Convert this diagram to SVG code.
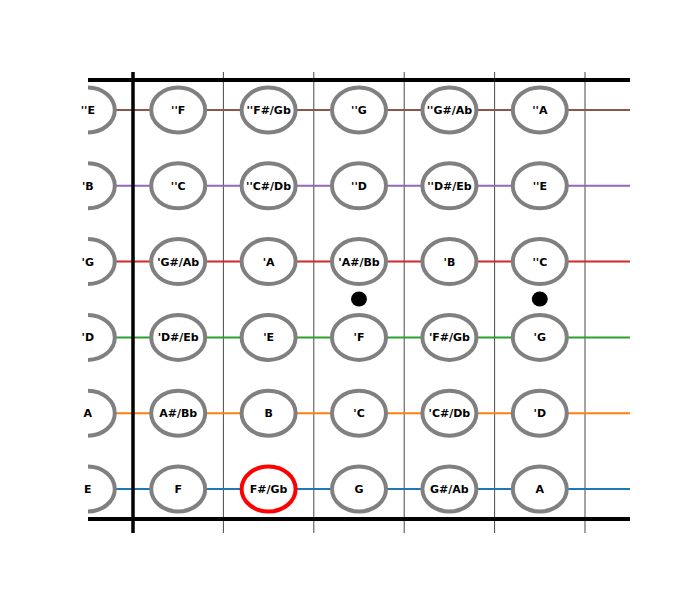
<svg xmlns="http://www.w3.org/2000/svg" width="700" height="600" viewBox="0 0 700 600">
<style>
.n{fill:#fff;stroke:#808080;stroke-width:4}
.hl{fill:#fff;stroke:#ff0000;stroke-width:4}
.t{font-family:"DejaVu Sans",sans-serif;font-weight:bold;font-size:11px;fill:#000;text-anchor:middle}
.fret{stroke:#333;stroke-width:0.9}
.s{stroke-width:2}
</style>
<defs>
<clipPath id="clip"><rect x="88" y="0" width="542" height="600"/></clipPath>
</defs>
<rect width="700" height="600" fill="#fff"/>
<g id="frets">
<line class="fret" x1="223.4" y1="72" x2="223.4" y2="533"/>
<line class="fret" x1="313.8" y1="72" x2="313.8" y2="533"/>
<line class="fret" x1="404.2" y1="72" x2="404.2" y2="533"/>
<line class="fret" x1="494.6" y1="72" x2="494.6" y2="533"/>
<line class="fret" x1="585" y1="72" x2="585" y2="533"/>
</g>
<g id="connectors">
<line class="s" x1="88" y1="110" x2="630" y2="110" stroke="#8c564b"/>
<line class="s" x1="88" y1="185.8" x2="630" y2="185.8" stroke="#9467bd"/>
<line class="s" x1="88" y1="261.6" x2="630" y2="261.6" stroke="#d62728"/>
<line class="s" x1="88" y1="337.4" x2="630" y2="337.4" stroke="#2ca02c"/>
<line class="s" x1="88" y1="413.2" x2="630" y2="413.2" stroke="#ff7f0e"/>
<line class="s" x1="88" y1="489" x2="630" y2="489" stroke="#1f77b4"/>
</g>
<g id="frame">
<line x1="88" y1="80" x2="630" y2="80" stroke="#000" stroke-width="4"/>
<line x1="88" y1="519" x2="630" y2="519" stroke="#000" stroke-width="4"/>
<line x1="133" y1="72" x2="133" y2="533" stroke="#000" stroke-width="3.5"/>
</g>
<g id="markers">
<ellipse cx="359" cy="299" rx="8" ry="7.5" fill="#000"/>
<ellipse cx="539.8" cy="299" rx="8" ry="7.5" fill="#000"/>
</g>
<g id="nodes">
<g id="n-1-0"><ellipse class="n" cx="87.8" cy="110" rx="27" ry="22.5" clip-path="url(#clip)"/><text class="t" x="87.8" y="114">''E</text></g>
<g id="n-1-1"><ellipse class="n" cx="178.2" cy="110" rx="27" ry="22.5"/><text class="t" x="178.2" y="114">''F</text></g>
<g id="n-1-2"><ellipse class="n" cx="268.6" cy="110" rx="27" ry="22.5"/><text class="t" x="268.6" y="114">''F#/Gb</text></g>
<g id="n-1-3"><ellipse class="n" cx="359" cy="110" rx="27" ry="22.5"/><text class="t" x="359" y="114">''G</text></g>
<g id="n-1-4"><ellipse class="n" cx="449.4" cy="110" rx="27" ry="22.5"/><text class="t" x="449.4" y="114">''G#/Ab</text></g>
<g id="n-1-5"><ellipse class="n" cx="539.8" cy="110" rx="27" ry="22.5"/><text class="t" x="539.8" y="114">''A</text></g>

<g id="n-2-0"><ellipse class="n" cx="87.8" cy="185.8" rx="27" ry="22.5" clip-path="url(#clip)"/><text class="t" x="87.8" y="189.8">'B</text></g>
<g id="n-2-1"><ellipse class="n" cx="178.2" cy="185.8" rx="27" ry="22.5"/><text class="t" x="178.2" y="189.8">''C</text></g>
<g id="n-2-2"><ellipse class="n" cx="268.6" cy="185.8" rx="27" ry="22.5"/><text class="t" x="268.6" y="189.8">''C#/Db</text></g>
<g id="n-2-3"><ellipse class="n" cx="359" cy="185.8" rx="27" ry="22.5"/><text class="t" x="359" y="189.8">''D</text></g>
<g id="n-2-4"><ellipse class="n" cx="449.4" cy="185.8" rx="27" ry="22.5"/><text class="t" x="449.4" y="189.8">''D#/Eb</text></g>
<g id="n-2-5"><ellipse class="n" cx="539.8" cy="185.8" rx="27" ry="22.5"/><text class="t" x="539.8" y="189.8">''E</text></g>

<g id="n-3-0"><ellipse class="n" cx="87.8" cy="261.6" rx="27" ry="22.5" clip-path="url(#clip)"/><text class="t" x="87.8" y="265.6">'G</text></g>
<g id="n-3-1"><ellipse class="n" cx="178.2" cy="261.6" rx="27" ry="22.5"/><text class="t" x="178.2" y="265.6">'G#/Ab</text></g>
<g id="n-3-2"><ellipse class="n" cx="268.6" cy="261.6" rx="27" ry="22.5"/><text class="t" x="268.6" y="265.6">'A</text></g>
<g id="n-3-3"><ellipse class="n" cx="359" cy="261.6" rx="27" ry="22.5"/><text class="t" x="359" y="265.6">'A#/Bb</text></g>
<g id="n-3-4"><ellipse class="n" cx="449.4" cy="261.6" rx="27" ry="22.5"/><text class="t" x="449.4" y="265.6">'B</text></g>
<g id="n-3-5"><ellipse class="n" cx="539.8" cy="261.6" rx="27" ry="22.5"/><text class="t" x="539.8" y="265.6">''C</text></g>

<g id="n-4-0"><ellipse class="n" cx="87.8" cy="337.4" rx="27" ry="22.5" clip-path="url(#clip)"/><text class="t" x="87.8" y="341.4">'D</text></g>
<g id="n-4-1"><ellipse class="n" cx="178.2" cy="337.4" rx="27" ry="22.5"/><text class="t" x="178.2" y="341.4">'D#/Eb</text></g>
<g id="n-4-2"><ellipse class="n" cx="268.6" cy="337.4" rx="27" ry="22.5"/><text class="t" x="268.6" y="341.4">'E</text></g>
<g id="n-4-3"><ellipse class="n" cx="359" cy="337.4" rx="27" ry="22.5"/><text class="t" x="359" y="341.4">'F</text></g>
<g id="n-4-4"><ellipse class="n" cx="449.4" cy="337.4" rx="27" ry="22.5"/><text class="t" x="449.4" y="341.4">'F#/Gb</text></g>
<g id="n-4-5"><ellipse class="n" cx="539.8" cy="337.4" rx="27" ry="22.5"/><text class="t" x="539.8" y="341.4">'G</text></g>

<g id="n-5-0"><ellipse class="n" cx="87.8" cy="413.2" rx="27" ry="22.5" clip-path="url(#clip)"/><text class="t" x="87.8" y="417.2">A</text></g>
<g id="n-5-1"><ellipse class="n" cx="178.2" cy="413.2" rx="27" ry="22.5"/><text class="t" x="178.2" y="417.2">A#/Bb</text></g>
<g id="n-5-2"><ellipse class="n" cx="268.6" cy="413.2" rx="27" ry="22.5"/><text class="t" x="268.6" y="417.2">B</text></g>
<g id="n-5-3"><ellipse class="n" cx="359" cy="413.2" rx="27" ry="22.5"/><text class="t" x="359" y="417.2">'C</text></g>
<g id="n-5-4"><ellipse class="n" cx="449.4" cy="413.2" rx="27" ry="22.5"/><text class="t" x="449.4" y="417.2">'C#/Db</text></g>
<g id="n-5-5"><ellipse class="n" cx="539.8" cy="413.2" rx="27" ry="22.5"/><text class="t" x="539.8" y="417.2">'D</text></g>

<g id="n-6-0"><ellipse class="n" cx="87.8" cy="489" rx="27" ry="22.5" clip-path="url(#clip)"/><text class="t" x="87.8" y="493">E</text></g>
<g id="n-6-1"><ellipse class="n" cx="178.2" cy="489" rx="27" ry="22.5"/><text class="t" x="178.2" y="493">F</text></g>
<g id="n-6-2"><ellipse class="hl" cx="268.6" cy="489" rx="27" ry="22.5"/><text class="t" x="268.6" y="493">F#/Gb</text></g>
<g id="n-6-3"><ellipse class="n" cx="359" cy="489" rx="27" ry="22.5"/><text class="t" x="359" y="493">G</text></g>
<g id="n-6-4"><ellipse class="n" cx="449.4" cy="489" rx="27" ry="22.5"/><text class="t" x="449.4" y="493">G#/Ab</text></g>
<g id="n-6-5"><ellipse class="n" cx="539.8" cy="489" rx="27" ry="22.5"/><text class="t" x="539.8" y="493">A</text></g>
</g>
</svg>
